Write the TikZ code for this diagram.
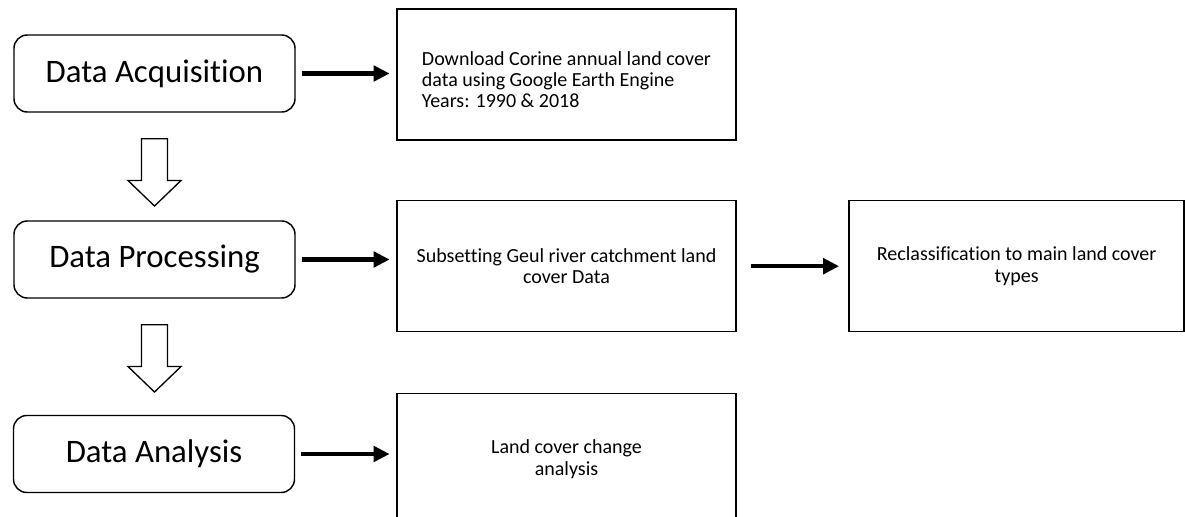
\documentclass[tikz,border=0pt]{standalone}
\usepackage{fontspec}
\setmainfont{Carlito}[Ligatures=NoCommon]
\usetikzlibrary{arrows.meta,calc}

\begin{document}
\begin{tikzpicture}[
    x=0.75pt,y=-0.75pt,
    stage/.style={draw,line width=1.1pt,rounded corners=10pt,
        minimum width=210.75pt,minimum height=57.75pt,
        font={\fontsize{24.6}{29}\selectfont}},
    task/.style={draw,line width=1.1pt,
        minimum width=254.25pt,minimum height=98.25pt,align=center,
        font={\fontsize{15}{16}\selectfont}},
    flow/.style={-{Triangle[length=12pt,width=11.5pt]},line width=3.2pt,
        shorten <=4.5pt,shorten >=5pt},
    downarrow/.pic={
        \draw[line width=1pt,fill=white] (-13,26) -- (13,26) -- (13,67.8)
            -- (26.5,67.8) -- (0,93.3) -- (-26.5,67.8) -- (-13,67.8) -- cycle;},
    ]
    % Page frame
    \useasboundingbox (0,0) rectangle (1185,517);

    % Stages on the left
    \node[stage] (acq) at (154.5,73.5) {Data Acquisition};
    \node[stage] (proc) at (154.5,259.5) {Data Processing};
    \node[stage] (ana) at (154,454) {Data Analysis};

    % Hollow arrows between stages
    \pic at (acq.south) {downarrow};
    \pic at (proc.south) {downarrow};

    % Tasks
    \node[task,align=left,text height=50pt] (dl) at (566.5,74.7)
        {Download Corine annual land cover\\data using Google Earth Engine\\Years: 1990 \& 2018};
    \node[task] (sub) at (566.5,266.2)
        {Subsetting Geul river catchment land\\cover Data};
    \node[task,minimum width=251.25pt] (recl) at (1016.7,266.2)
        {Reclassification to main land cover\\types};
    \node[task] (lcc) at (566.5,459)
        {Land cover change\\analysis};

    % Thick arrows
    \draw[flow] (acq.east) -- (acq.east -| dl.west);
    \draw[flow] (proc.east) -- (proc.east -| sub.west);
    \draw[flow] (ana.east) -- (ana.east -| lcc.west);
    \draw[flow,shorten <=11pt,shorten >=7pt] (sub.east) -- (recl.west);

\end{tikzpicture}
\end{document}
